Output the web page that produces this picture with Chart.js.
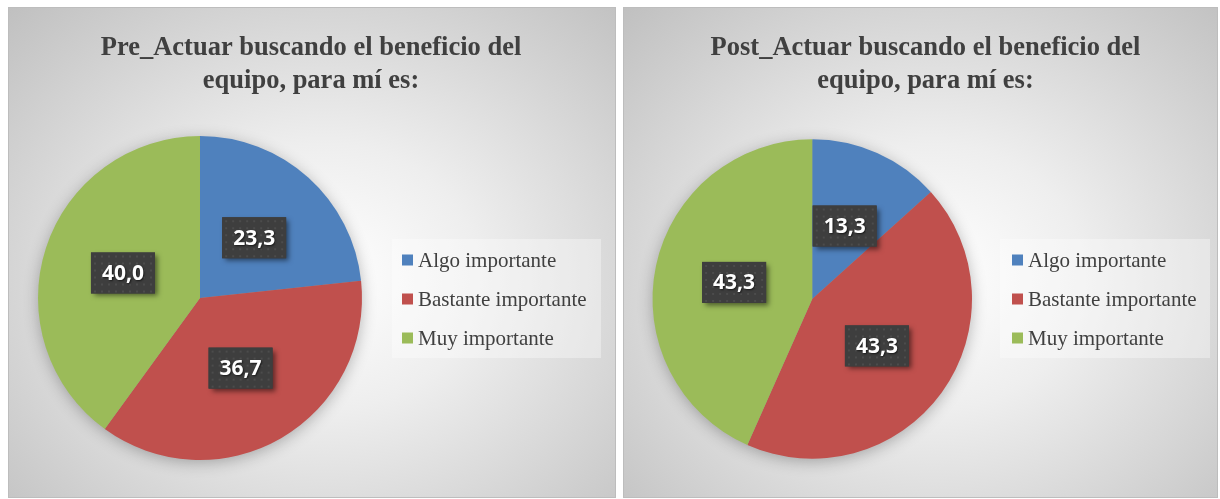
<!DOCTYPE html>
<html>
<head>
<meta charset="utf-8">
<script src="https://cdn.jsdelivr.net/npm/chart.js@4.4.1/dist/chart.umd.min.js"></script>
<style>
  html,body{margin:0;padding:0;background:#ffffff;}
  body{width:1220px;height:499px;position:relative;overflow:hidden;}
  .panel{position:absolute;box-sizing:border-box;border:1px solid #bdbdbd;
    background:radial-gradient(ellipse farthest-corner at 52% 55%, #ffffff 0%, #eeeeee 35%, #c0c0c0 100%);}
  #p1{left:8px;top:7px;width:608px;height:491px;}
  #p2{left:623px;top:7px;width:595px;height:491px;}
  canvas{position:absolute;left:0;top:0;}
</style>
</head>
<body>
<div class="panel" id="p1"><canvas id="c1"></canvas></div>
<div class="panel" id="p2"><canvas id="c2"></canvas></div>
<script>
// ---- data ----
const categories = ['Algo importante', 'Bastante importante', 'Muy importante'];
const preValues = [23.3, 36.7, 40.0];
const postValues = [13.3, 43.3, 43.3];
const preTitle = ['Pre_Actuar buscando el beneficio del', 'equipo, para mí es:'];
const postTitle = ['Post_Actuar buscando el beneficio del', 'equipo, para mí es:'];
const sliceColors = ['#4f81bd', '#c0504d', '#9bbb59'];

// subtle dotted dark pattern for data label boxes
function makePattern(ctx) {
  const pc = document.createElement('canvas');
  pc.width = 7; pc.height = 7;
  const p = pc.getContext('2d');
  p.fillStyle = '#3e3e3e';
  p.fillRect(0, 0, 7, 7);
  p.fillStyle = '#4c4c4c';
  p.fillRect(3, 3, 2, 2);
  return ctx.createPattern(pc, 'repeat');
}

const decorPlugin = {
  id: 'decor',
  beforeDatasetsDraw(chart) {
    const meta = chart.getDatasetMeta(0);
    const a = meta.data[0];
    if (!a) return;
    const ctx = chart.ctx;
    ctx.save();
    ctx.shadowColor = 'rgba(0,0,0,0.3)';
    ctx.shadowBlur = 16;
    ctx.shadowOffsetX = 0;
    ctx.shadowOffsetY = 3;
    ctx.fillStyle = '#999';
    ctx.beginPath();
    ctx.arc(a.x, a.y, a.outerRadius - 1, 0, Math.PI * 2);
    ctx.fill();
    ctx.restore();
  },
  afterDraw(chart, args, opts) {
    const ctx = chart.ctx;
    // title
    ctx.save();
    ctx.fillStyle = '#404040';
    ctx.font = 'bold 26.5px "Liberation Serif", "Times New Roman", serif';
    ctx.textAlign = 'center';
    ctx.textBaseline = 'alphabetic';
    opts.title.forEach((line, i) => {
      ctx.fillText(line, opts.titleX, opts.titleY + i * opts.titleLine);
    });
    ctx.restore();

    // legend
    const lg = opts.legend;
    ctx.save();
    ctx.fillStyle = 'rgba(255,255,255,0.35)';
    ctx.fillRect(lg.x, lg.y, lg.w, lg.h);
    ctx.font = '21px "Liberation Serif", "Times New Roman", serif';
    ctx.textBaseline = 'middle';
    ctx.textAlign = 'left';
    const ds = chart.data.datasets[0];
    chart.data.labels.forEach((lab, i) => {
      const cy = lg.firstY + i * lg.step;
      ctx.fillStyle = ds.backgroundColor[i];
      ctx.fillRect(lg.markX, cy - 5.5, 11, 11);
      ctx.fillStyle = '#404040';
      ctx.fillText(lab, lg.textX, cy + 1);
    });
    ctx.restore();

    // data labels
    const meta = chart.getDatasetMeta(0);
    const pat = makePattern(ctx);
    meta.data.forEach((arc, i) => {
      const pos = arc.tooltipPosition();
      const txt = ds.data[i].toFixed(1).replace('.', ',');
      const bw = 64, bh = 41;
      const bx = pos.x - bw / 2, by = pos.y - bh / 2;
      ctx.save();
      ctx.shadowColor = 'rgba(0,0,0,0.5)';
      ctx.shadowBlur = 5;
      ctx.shadowOffsetX = 3;
      ctx.shadowOffsetY = 3;
      ctx.fillStyle = '#3e3e3e';
      ctx.fillRect(bx, by, bw, bh);
      ctx.restore();
      ctx.save();
      ctx.fillStyle = pat;
      ctx.translate(bx, by);
      ctx.fillRect(0, 0, bw, bh);
      ctx.restore();
      ctx.save();
      ctx.font = 'bold 21px "Open Sans", "Liberation Sans", sans-serif';
      ctx.textAlign = 'center';
      ctx.textBaseline = 'middle';
      ctx.shadowColor = 'rgba(0,0,0,0.6)';
      ctx.shadowBlur = 2;
      ctx.shadowOffsetX = 1;
      ctx.shadowOffsetY = 1;
      ctx.fillStyle = '#ffffff';
      ctx.fillText(txt, pos.x, pos.y + 1);
      ctx.restore();
    });
  }
};

function makeChart(id, w, h, values, title, pad, decor) {
  const cv = document.getElementById(id);
  cv.width = w; cv.height = h;
  cv.style.width = w + 'px'; cv.style.height = h + 'px';
  return new Chart(cv, {
    type: 'pie',
    data: {
      labels: categories,
      datasets: [{
        data: values,
        backgroundColor: sliceColors,
        borderWidth: 0
      }]
    },
    options: {
      responsive: false,
      animation: false,
      devicePixelRatio: 1,
      layout: { padding: pad },
      plugins: {
        legend: { display: false },
        title: { display: false },
        tooltip: { enabled: false },
        decor: Object.assign({ title: title }, decor)
      }
    },
    plugins: [decorPlugin]
  });
}

// canvases are inside the 1px border, so sizes are panel-2
makeChart('c1', 606, 489, preValues, preTitle,
  { left: 29, right: 253, top: 128, bottom: 37 },
  { titleX: 302, titleY: 47, titleLine: 33,
    legend: { x: 383, y: 231, w: 209, h: 119, markX: 393, textX: 409, firstY: 252, step: 39 } });

makeChart('c2', 593, 489, postValues, postTitle,
  { left: 28.5, right: 245, top: 131, bottom: 38 },
  { titleX: 301.5, titleY: 47, titleLine: 33,
    legend: { x: 376, y: 231, w: 210, h: 119, markX: 388, textX: 404, firstY: 252, step: 39 } });
</script>
</body>
</html>
